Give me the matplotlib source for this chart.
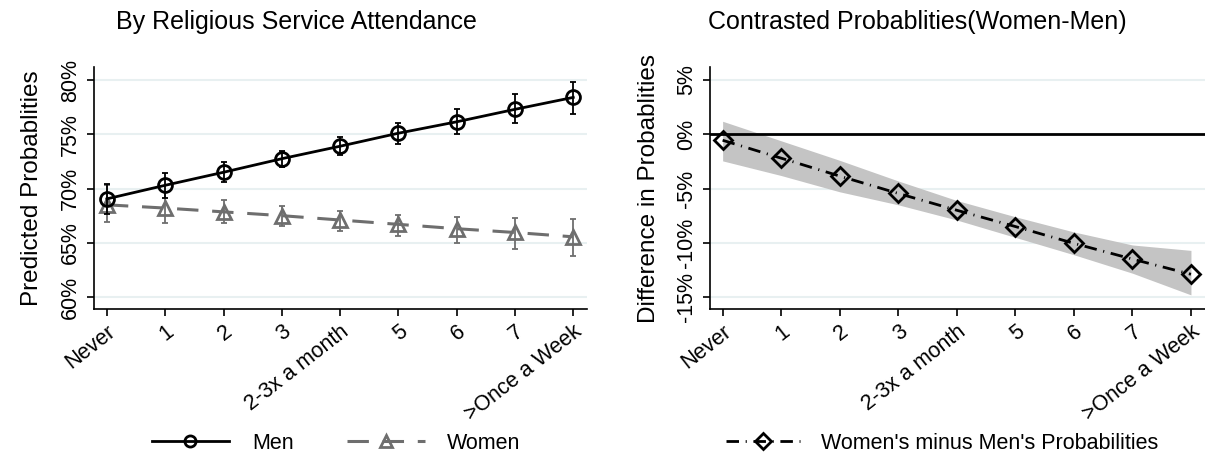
import numpy as np
import matplotlib
matplotlib.use('Agg')
import matplotlib.pyplot as plt
from matplotlib.lines import Line2D

plt.rcParams['font.family'] = ['Liberation Sans', 'DejaVu Sans']

# attendance categories on the x axis
cats = ['Never', '1', '2', '3', '2-3x a month', '5', '6', '7', '>Once a Week']

# predicted probabilities (%) with 95% CI
men = [69.05, 70.3, 71.5, 72.75, 73.9, 75.1, 76.15, 77.3, 78.4]
men_lo = [67.7, 69.15, 70.6, 71.97, 73.05, 74.15, 75.05, 76.0, 76.85]
men_hi = [70.4, 71.4, 72.45, 73.5, 74.75, 76.05, 77.3, 78.7, 79.85]
women = [68.5, 68.2, 67.85, 67.5, 67.1, 66.7, 66.3, 65.95, 65.55]
women_lo = [66.9, 66.8, 66.8, 66.55, 66.1, 65.65, 65.0, 64.4, 63.8]
women_hi = [70.3, 69.7, 68.9, 68.35, 67.9, 67.6, 67.4, 67.25, 67.2]

# women minus men contrast (%) with CI band
diff = [-0.55, -2.2, -3.85, -5.45, -7.0, -8.5, -10.05, -11.5, -12.9]
diff_lo = [-2.45, -3.8, -5.3, -6.5, -7.9, -9.5, -11.1, -12.8, -14.8]
diff_hi = [1.2, -0.6, -2.4, -4.3, -6.1, -7.6, -9.0, -10.2, -10.7]

GRID = '#e8f0f1'
WGREY = '#6e6e6e'
WDASH = (7, 4.5)
DDASH = (4.5, 2.4, 0.4, 2.4)   # long dash, dot

x = np.arange(len(cats))


def style(ax, yticks, xlim, ylim):
    ax.set_xlim(*xlim)
    ax.set_ylim(*ylim)
    for s in ('top', 'right'):
        ax.spines[s].set_visible(False)
    for s in ('left', 'bottom'):
        ax.spines[s].set_linewidth(1.2)
    ax.set_yticks(yticks)
    ax.set_yticklabels([f'{v}%' for v in yticks], rotation=90, va='center', fontsize=15.5)
    ax.set_xticks(x)
    ax.set_xticklabels(cats, rotation=38, ha='right', rotation_mode='anchor', fontsize=15.5)
    ax.tick_params(length=5, width=1.2, pad=4)
    ax.yaxis.grid(True, color=GRID, lw=1.5)
    ax.set_axisbelow(True)


fig = plt.figure(figsize=(12.05, 4.54), dpi=100)

# ---- left: predicted probabilities ----
ax1 = fig.add_axes([0.0776, 0.3194, 0.4095, 0.533])
m = np.array(men); w = np.array(women)
ax1.errorbar(x, w, yerr=[w - np.array(women_lo), np.array(women_hi) - w], fmt='none',
             ecolor=WGREY, elinewidth=1.3, capsize=2.5, capthick=1.3, zorder=2)
ax1.plot(x, w, color=WGREY, lw=2.2, dashes=WDASH, marker='^', ms=10, mfc='none',
         mec=WGREY, mew=2, zorder=3)
ax1.errorbar(x, m, yerr=[m - np.array(men_lo), np.array(men_hi) - m], fmt='none',
             ecolor='black', elinewidth=1.3, capsize=2.5, capthick=1.3, zorder=4)
ax1.plot(x, m, color='black', lw=2, marker='o', ms=10, mfc='none', mec='black', mew=2, zorder=5)
style(ax1, [60, 65, 70, 75, 80], (-0.23, 8.235), (58.9, 81.2))
ax1.set_ylabel('Predicted Probablities', fontsize=17.5, labelpad=12)

# ---- right: contrast ----
ax2 = fig.add_axes([0.589, 0.3194, 0.411, 0.533])
ax2.fill_between(x, diff_lo, diff_hi, color='#c4c4c4', lw=0, zorder=1)
ax2.axhline(0, color='black', lw=2, zorder=2)
ax2.plot(x, diff, color='black', lw=2, dashes=DDASH,
         marker='D', ms=9, mfc='none', mec='black', mew=2, zorder=3)
style(ax2, [-15, -10, -5, 0, 5], (-0.22, 8.24), (-16.1, 6.2))
ax2.set_ylabel('Difference in Probablities', fontsize=17.5, labelpad=12)

fig.text(0.246, 0.952, 'By Religious Service Attendance', fontsize=18, ha='center', va='center')
fig.text(0.761, 0.952, 'Contrasted Probablities(Women-Men)', fontsize=18, ha='center', va='center')

# ---- legends ----
h_men = Line2D([], [], color='black', lw=2, marker='o', ms=8, mfc='none', mew=2)
h_women = Line2D([], [], color=WGREY, lw=2.2, dashes=WDASH, marker='^', ms=8, mfc='none', mew=2)
fig.legend([h_men, h_women], ['Men', 'Women'], loc='center', bbox_to_anchor=(0.279, 0.024),
           ncol=2, frameon=False, fontsize=15.5, handlelength=3.6, handletextpad=1.05,
           columnspacing=2.5)
h_diff = Line2D([], [], color='black', lw=2, dashes=DDASH,
                marker='D', ms=8, mfc='none', mew=2)
fig.legend([h_diff], ["Women's minus Men's Probabilities"], loc='center',
           bbox_to_anchor=(0.782, 0.024), frameon=False, fontsize=15.5, handlelength=3.4,
           handletextpad=1.0)

fig.savefig('out.png', dpi=100)
